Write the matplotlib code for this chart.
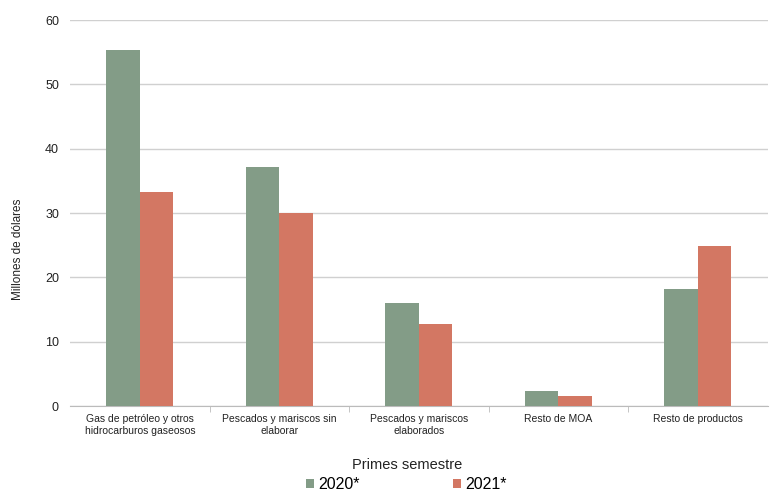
import matplotlib.pyplot as plt
import numpy as np

plt.rcParams['font.family'] = ['Liberation Sans', 'DejaVu Sans']

categorias = ['Gas de petróleo y otros\nhidrocarburos gaseosos',
              'Pescados y mariscos sin\nelaborar',
              'Pescados y mariscos\nelaborados',
              'Resto de MOA',
              'Resto de productos']
valores_2020 = [55.4, 37.2, 16.1, 2.3, 18.2]
valores_2021 = [33.3, 30.0, 12.8, 1.6, 24.9]
series = ['2020*', '2021*']
colores = ['#839c87', '#d37763']

fig = plt.figure(figsize=(7.7, 4.91), dpi=100)
ax = fig.add_axes([0.091, 0.173, 0.906, 0.786])

x = np.arange(len(categorias))
w = 0.24
ax.bar(x - w / 2, valores_2020, w, color=colores[0], label=series[0], zorder=3)
ax.bar(x + w / 2, valores_2021, w, color=colores[1], label=series[1], zorder=3)

ax.set_xlim(-0.5, len(categorias) - 0.5)
ax.set_ylim(0, 60)
ax.set_yticks(range(0, 61, 10))
ax.yaxis.grid(True, color='#d0d0d0', linewidth=1, zorder=0)
ax.tick_params(axis='y', length=0, labelsize=9, colors='#222222', pad=8)

ax.set_xticks(x)
ax.set_xticklabels(categorias, fontsize=7.5, color='#222222')
ax.set_xticks(np.arange(0.5, len(categorias) - 0.5), minor=True)
ax.tick_params(axis='x', which='major', length=0, pad=6)
ax.tick_params(axis='x', which='minor', length=4, color='#bbbbbb')

for s in ['top', 'right', 'left']:
    ax.spines[s].set_visible(False)
ax.spines['bottom'].set_color('#bbbbbb')

ax.set_ylabel('Millones de dólares', fontsize=8.5, color='#222222')
ax.yaxis.set_label_coords(-0.066, 0.407)

fig.text(0.529, 0.052, 'Primes semestre', ha='center', va='center', fontsize=10.5, color='#222222')
fig.legend(loc='center', bbox_to_anchor=(0.528, 0.013), ncol=2, frameon=False,
           fontsize=11.5, handlelength=0.5, handleheight=0.5, handletextpad=0.3,
           columnspacing=5.8, borderaxespad=0)

fig.savefig('out.png', dpi=100)
